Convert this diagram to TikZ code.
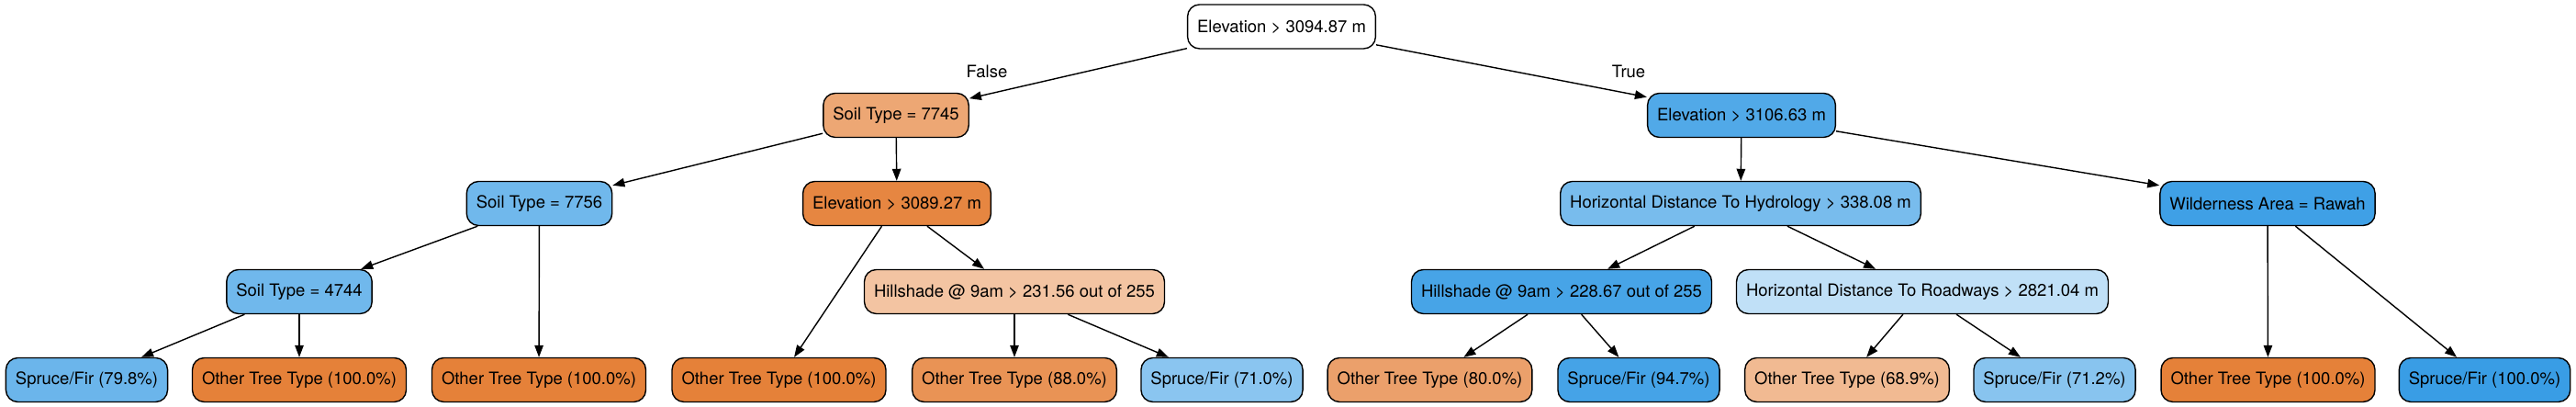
\documentclass[tikz,border=0pt]{standalone}
\usepackage{fontspec}
\setmainfont{TeX Gyre Heros}
\usepackage{tikz}
\usetikzlibrary{arrows.meta,positioning}
\definecolor{treeorange}{HTML}{E58139}
\definecolor{treeblue}{HTML}{399DE5}

\begin{document}
\begin{tikzpicture}[line width=0.4pt,font=\fontsize{5.26pt}{6.3pt}\selectfont]
             \tikzstyle{split} = [draw,rounded corners=0.13cm,minimum height=0.48cm,inner xsep=0.105cm,inner ysep=0pt]
             \tikzstyle{leaf} = [split]
             \tikzstyle{arr} = [-{Triangle[length=0.13cm,width=0.095cm]}]
             \useasboundingbox (0,0) rectangle (28.06,-4.43);
		% Root
		\node[split,fill=white] (n0_0) at (13.96,-0.29) {Elevation > 3094.87 m};
		% Level 1
		\node[split,fill=treeorange!70!white] (n1_0) at (9.76,-1.255) {Soil Type = 7745};
		\node[split,fill=treeblue!88!white] (n1_1) at (18.97,-1.255) {Elevation > 3106.63 m};
		\draw[arr] (n0_0) -- (n1_0);
		\draw[arr] (n0_0) -- (n1_1);
		\node (f_0) at (10.75,-0.78) {False};
		\node (t_0) at (17.74,-0.78) {True};
		% Level 2
		\node[split,fill=treeblue!72!white] (n2_0) at (5.875,-2.215) {Soil Type = 7756};
		\node[split,fill=treeorange!96!white] (n2_1) at (9.77,-2.215) {Elevation > 3089.27 m};
		\node[split,fill=treeblue!68!white] (n2_2) at (18.96,-2.215) {Horizontal Distance To Hydrology > 338.08 m};
		\node[split,fill=treeblue!97!white] (n2_3) at (24.70,-2.215) {Wilderness Area = Rawah};
		\draw[arr] (n1_0) -- (n2_0);
		\draw[arr] (n1_0) -- (n2_1);
		\draw[arr] (n1_1) -- (n2_2);
		\draw[arr] (n1_1) -- (n2_3);
		% Level 3
		\node[split,fill=treeblue!72!white] (n3_0) at (3.26,-3.175) {Soil Type = 4744};
		\node[split,fill=treeorange!47!white] (n3_1) at (11.05,-3.175) {Hillshade @ 9am > 231.56 out of 255};
		\node[split,fill=treeblue!93!white] (n3_2) at (17.01,-3.175) {Hillshade @ 9am > 228.67 out of 255};
		\node[split,fill=treeblue!32!white] (n3_3) at (20.94,-3.175) {Horizontal Distance To Roadways > 2821.04 m};
		\draw[arr] (n2_0) -- (n3_0);
		\draw[arr] (n2_1) -- (n3_1);
		\draw[arr] (n2_2) -- (n3_2);
		\draw[arr] (n2_2) -- (n3_3);
		% Leaves
		\node[leaf,fill=treeblue!75!white] (n4_0) at (0.945,-4.135) {Spruce/Fir (79.8\%)};
		\node[leaf,fill=treeorange] (n4_1) at (3.26,-4.135) {Other Tree Type (100.0\%)};
		\node[leaf,fill=treeorange] (n4_2) at (5.87,-4.135) {Other Tree Type (100.0\%)};
		\node[leaf,fill=treeorange] (n4_3) at (8.485,-4.135) {Other Tree Type (100.0\%)};
		\node[leaf,fill=treeorange!86!white] (n4_4) at (11.05,-4.135) {Other Tree Type (88.0\%)};
		\node[leaf,fill=treeblue!59!white] (n4_5) at (13.31,-4.135) {Spruce/Fir (71.0\%)};
		\node[leaf,fill=treeorange!75!white] (n4_6) at (15.575,-4.135) {Other Tree Type (80.0\%)};
		\node[leaf,fill=treeblue!94!white] (n4_7) at (17.85,-4.135) {Spruce/Fir (94.7\%)};
		\node[leaf,fill=treeorange!55!white] (n4_8) at (20.12,-4.135) {Other Tree Type (68.9\%)};
		\node[leaf,fill=treeblue!60!white] (n4_9) at (22.38,-4.135) {Spruce/Fir (71.2\%)};
		\node[leaf,fill=treeorange] (n4_10) at (24.705,-4.135) {Other Tree Type (100.0\%)};
		\node[leaf,fill=treeblue] (n4_11) at (27.065,-4.135) {Spruce/Fir (100.0\%)};
		\draw[arr] (n3_0) -- (n4_0);
		\draw[arr] (n3_0) -- (n4_1);
		\draw[arr] (n2_0) -- (n4_2);
		\draw[arr] (n2_1) -- (n4_3);
		\draw[arr] (n3_1) -- (n4_4);
		\draw[arr] (n3_1) -- (n4_5);
		\draw[arr] (n3_2) -- (n4_6);
		\draw[arr] (n3_2) -- (n4_7);
		\draw[arr] (n3_3) -- (n4_8);
		\draw[arr] (n3_3) -- (n4_9);
		\draw[arr] (n2_3) -- (n4_10);
		\draw[arr] (n2_3) -- (n4_11);
\end{tikzpicture}
\end{document}
